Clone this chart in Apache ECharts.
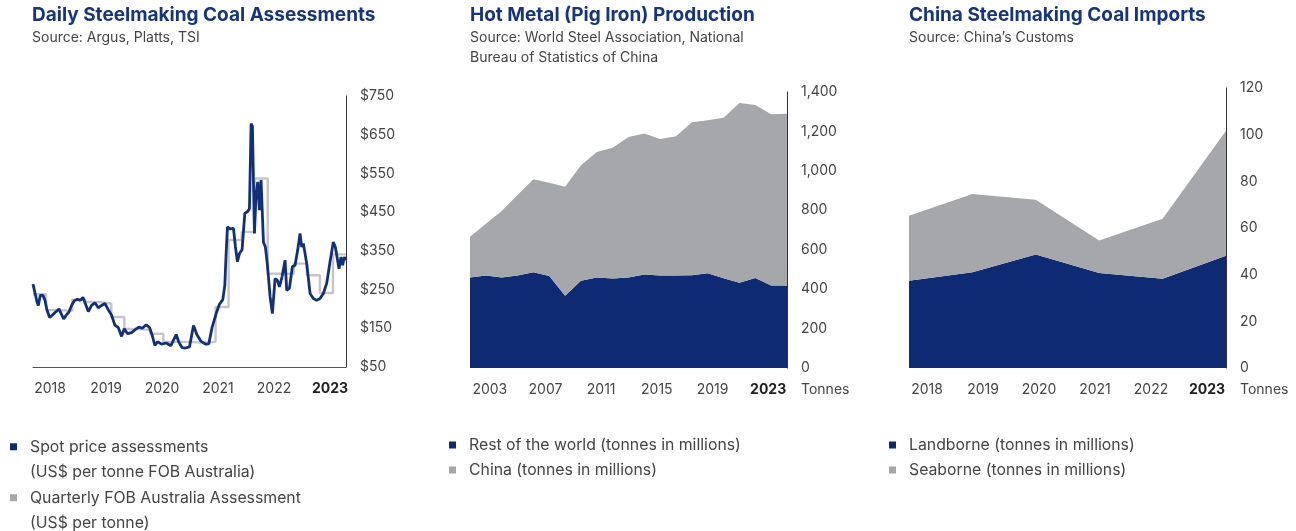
<!DOCTYPE html>
<html>
<head>
<meta charset="utf-8">
<script src="https://cdn.jsdelivr.net/npm/echarts/dist/echarts.min.js"></script>
<style>
  html, body { margin: 0; padding: 0; background: #fff; }
  #chart { width: 1296px; height: 531px; }
</style>
</head>
<body>
<div id="chart"></div>
<script>
// ---- left: daily spot price (decimal year, US$/t) ----
const spotDates = [
  2018.000, 2018.038, 2018.077, 2018.102, 2018.140, 2018.191, 2018.230, 2018.268, 2018.319, 2018.370,
  2018.434, 2018.498, 2018.536, 2018.587, 2018.638, 2018.689, 2018.740, 2018.791, 2018.855, 2018.906,
  2018.957, 2019.008, 2019.060, 2019.123, 2019.187, 2019.251, 2019.315, 2019.379, 2019.443, 2019.506,
  2019.570, 2019.634, 2019.698, 2019.749, 2019.813, 2019.889, 2019.966, 2020.030, 2020.094, 2020.170,
  2020.234, 2020.285, 2020.336, 2020.387, 2020.464, 2020.553, 2020.643, 2020.745, 2020.796, 2020.860,
  2020.923, 2021.000, 2021.077, 2021.140, 2021.217, 2021.306, 2021.370, 2021.434, 2021.511, 2021.574,
  2021.638, 2021.677, 2021.702, 2021.728, 2021.779, 2021.843, 2021.881, 2021.919, 2021.957, 2022.008,
  2022.060, 2022.111, 2022.149, 2022.181, 2022.206, 2022.245, 2022.277, 2022.309, 2022.340, 2022.372,
  2022.417, 2022.455, 2022.494, 2022.545, 2022.589, 2022.640, 2022.685, 2022.723, 2022.774, 2022.832,
  2022.864, 2022.915, 2022.972, 2023.023, 2023.074, 2023.119, 2023.151, 2023.183, 2023.247, 2023.311,
  2023.374, 2023.438, 2023.502, 2023.566, 2023.630, 2023.694, 2023.757, 2023.796, 2023.834, 2023.866,
  2023.904, 2023.936, 2023.968, 2024.000
];
const spotPrices = [
  264, 259, 218, 209, 235, 235, 222, 197, 178, 184,
  192, 200, 197, 174, 184, 192, 209, 221, 225, 222,
  230, 212, 193, 209, 216, 203, 209, 214, 198, 184,
  158, 152, 129, 149, 136, 139, 147, 153, 150, 159,
  152, 132, 106, 115, 109, 112, 105, 134, 114, 100,
  99, 102, 157, 134, 117, 109, 110, 153, 188, 212,
  224, 261, 343, 412, 407, 408, 360, 322, 343, 353,
  447, 451, 459, 679, 672, 395, 498, 528, 455, 533,
  373, 360, 313, 231, 188, 278, 274, 257, 283, 326,
  248, 253, 309, 313, 352, 395, 360, 369, 317, 240,
  227, 222, 227, 240, 266, 322, 373, 360, 356, 304,
  334, 313, 334, 326
];
// quarterly FOB Australia assessment, Q1 2018 .. Q4 2023
const quarterStart = 2018;
const quarterlyPrices = [
  238, 197, 195, 224, 218, 214, 179, 148,
  146, 136, 115, 115, 113, 115, 205, 378,
  399, 537, 291, 291, 317, 287, 241, 341
];
const leftYearLabels = ['2018', '2019', '2020', '2021', '2022', '2023'];

// ---- middle: hot metal production (Mt) ----
const pigYears = ['2003', '2004', '2005', '2006', '2007', '2008', '2009', '2010', '2011', '2012', '2013',
  '2014', '2015', '2016', '2017', '2018', '2019', '2020', '2021', '2022', '2023'];
const restOfWorld = [459, 469, 459, 469, 486, 467, 366, 442, 459, 454, 459,
  474, 469, 469, 471, 481, 455, 432, 457, 418, 418];
const chinaPig = [207, 263, 337, 408, 472, 473, 553, 587, 637, 663, 713,
  715, 693, 707, 775, 776, 815, 912, 877, 869, 872];
const midYearLabels = ['2003', '2007', '2011', '2015', '2019', '2023'];

// ---- right: China coal imports (Mt) ----
const importYears = ['2018', '2019', '2020', '2021', '2022', '2023'];
const landborne = [37.4, 41.0, 48.6, 40.7, 38.3, 48.1];
const seaborne = [27.9, 33.6, 23.5, 13.9, 25.7, 53.6];
const rightYearLabels = ['2018', '2019', '2020', '2021', '2022', '2023'];

const FONT = 'Inter, "Noto Sans", sans-serif';
const NAVY = '#0e2a72';
const GREY = '#a6a7aa';
const TEXT = '#444';

const chart = echarts.init(document.getElementById('chart'));

function labelAxis(gridIndex, labels) {
  return {
    type: 'category', gridIndex: gridIndex, data: labels, boundaryGap: true,
    axisLine: { show: false }, axisTick: { show: false },
    axisLabel: {
      interval: 0, margin: 15, fontSize: 14, color: TEXT, fontFamily: FONT,
      formatter: (v, i) => i === labels.length - 1 ? '{b|' + v + '}' : v,
      rich: { b: { fontWeight: 'bold', color: '#222', fontSize: 14, fontFamily: FONT } }
    }
  };
}

function rightValueAxis(gridIndex, min, max, interval, fmt, name) {
  return {
    type: 'value', gridIndex: gridIndex, position: 'right', min: min, max: max, interval: interval,
    splitLine: { show: false }, axisTick: { show: false },
    axisLine: { show: true, lineStyle: { color: '#333', width: 1 } },
    axisLabel: { margin: 14, fontSize: 14, color: TEXT, fontFamily: FONT, formatter: fmt, padding: [4, 0, 0, 0] },
    name: name || '', nameLocation: 'start', nameGap: 22,
    nameTextStyle: { fontSize: 14, color: TEXT, fontFamily: FONT, align: 'left', verticalAlign: 'middle', padding: [0, 0, 0, 14] }
  };
}

// single-item legend; a leading blank line keeps the marker level with the first text line
function wrappedLegend(name, top) {
  return {
    left: 10, top: top, orient: 'vertical', padding: 0,
    itemWidth: 7, itemHeight: 7, icon: 'rect', selectedMode: false,
    formatter: n => '\n' + n,
    textStyle: { fontSize: 15.8, color: TEXT, fontFamily: FONT, lineHeight: 25.5, padding: [0, 0, 0, 8] },
    data: [name]
  };
}

const SPOT_NAME = 'Spot price assessments\n(US$ per tonne FOB Australia)';
const QUARTER_NAME = 'Quarterly FOB Australia Assessment\n(US$ per tonne)';

const quarterData = quarterlyPrices.map((v, i) => [quarterStart + i * 0.25, v]);
quarterData.push([quarterStart + quarterlyPrices.length * 0.25, quarterlyPrices[quarterlyPrices.length - 1]]);

const option = {
  animation: false,
  textStyle: { fontFamily: FONT },
  title: [
    { text: 'Daily Steelmaking Coal Assessments', subtext: 'Source: Argus, Platts, TSI', left: 32, top: 6 },
    { text: 'Hot Metal (Pig Iron) Production', subtext: 'Source: World Steel Association, National\nBureau of Statistics of China', left: 470, top: 6 },
    { text: 'China Steelmaking Coal Imports', subtext: 'Source: China\u2019s Customs', left: 909, top: 6 }
  ].map(t => Object.assign(t, {
    padding: 0, itemGap: 3,
    textStyle: { fontSize: 19, fontWeight: 'bold', color: '#17357d', fontFamily: FONT },
    subtextStyle: { fontSize: 14, color: TEXT, fontFamily: FONT, lineHeight: 20 }
  })),
  legend: [
    wrappedLegend(SPOT_NAME, 408.5),
    wrappedLegend(QUARTER_NAME, 459.5),
    {
      left: 449, top: 432.5, orient: 'vertical', padding: 0, itemGap: 0,
      itemWidth: 7, itemHeight: 7, icon: 'rect', selectedMode: false,
      textStyle: { fontSize: 15.8, color: TEXT, fontFamily: FONT, lineHeight: 25, padding: [0, 0, 0, 8] },
      data: ['Rest of the world (tonnes in millions)', 'China (tonnes in millions)']
    },
    {
      left: 889, top: 432.5, orient: 'vertical', padding: 0, itemGap: 0,
      itemWidth: 7, itemHeight: 7, icon: 'rect', selectedMode: false,
      textStyle: { fontSize: 15.8, color: TEXT, fontFamily: FONT, lineHeight: 25, padding: [0, 0, 0, 8] },
      data: ['Landborne (tonnes in millions)', 'Seaborne (tonnes in millions)']
    }
  ],
  grid: [
    { left: 33, right: 950, top: 96, bottom: 164 },
    { left: 470, right: 509, top: 92, bottom: 163 },
    { left: 909, right: 70, top: 88, bottom: 163 },
    // rows that carry only the year labels
    { left: 22, width: 336, top: 96, bottom: 164 },
    { left: 462, width: 334, top: 92, bottom: 163 },
    { left: 899, width: 336, top: 88, bottom: 163 }
  ],
  xAxis: [
    {
      type: 'value', gridIndex: 0, min: 2018, max: 2024,
      splitLine: { show: false }, axisTick: { show: false }, axisLabel: { show: false },
      axisLine: { show: true, lineStyle: { color: '#555', width: 1 } }
    },
    {
      type: 'category', gridIndex: 1, data: pigYears, boundaryGap: false,
      axisLine: { show: false }, axisTick: { show: false }, axisLabel: { show: false }
    },
    {
      type: 'category', gridIndex: 2, data: importYears, boundaryGap: false,
      axisLine: { show: false }, axisTick: { show: false }, axisLabel: { show: false }
    },
    labelAxis(3, leftYearLabels),
    labelAxis(4, midYearLabels),
    labelAxis(5, rightYearLabels)
  ],
  yAxis: [
    rightValueAxis(0, 50, 750, 100, v => '$' + v),
    rightValueAxis(1, 0, 1400, 200, v => v.toLocaleString('en-US'), 'Tonnes'),
    rightValueAxis(2, 0, 120, 20, v => String(v), 'Tonnes'),
    { type: 'value', gridIndex: 3, show: false, min: 0, max: 1 },
    { type: 'value', gridIndex: 4, show: false, min: 0, max: 1 },
    { type: 'value', gridIndex: 5, show: false, min: 0, max: 1 }
  ],
  series: [
    {
      name: QUARTER_NAME, type: 'line', step: 'end',
      xAxisIndex: 0, yAxisIndex: 0, symbol: 'none',
      lineStyle: { color: '#c6c6c6', width: 2.4 }, itemStyle: { color: GREY },
      data: quarterData
    },
    {
      name: SPOT_NAME, type: 'line',
      xAxisIndex: 0, yAxisIndex: 0, symbol: 'none',
      lineStyle: { color: '#12307a', width: 2.8 }, itemStyle: { color: NAVY },
      data: spotDates.map((t, i) => [t, spotPrices[i]])
    },
    {
      name: 'Rest of the world (tonnes in millions)', type: 'line', stack: 'pig',
      xAxisIndex: 1, yAxisIndex: 1, symbol: 'none',
      lineStyle: { width: 0 }, areaStyle: { color: NAVY, opacity: 1 }, itemStyle: { color: NAVY },
      data: restOfWorld
    },
    {
      name: 'China (tonnes in millions)', type: 'line', stack: 'pig',
      xAxisIndex: 1, yAxisIndex: 1, symbol: 'none',
      lineStyle: { width: 0 }, areaStyle: { color: GREY, opacity: 1 }, itemStyle: { color: GREY },
      data: chinaPig
    },
    {
      name: 'Landborne (tonnes in millions)', type: 'line', stack: 'imports',
      xAxisIndex: 2, yAxisIndex: 2, symbol: 'none',
      lineStyle: { width: 0 }, areaStyle: { color: NAVY, opacity: 1 }, itemStyle: { color: NAVY },
      data: landborne
    },
    {
      name: 'Seaborne (tonnes in millions)', type: 'line', stack: 'imports',
      xAxisIndex: 2, yAxisIndex: 2, symbol: 'none',
      lineStyle: { width: 0 }, areaStyle: { color: GREY, opacity: 1 }, itemStyle: { color: GREY },
      data: seaborne
    }
  ]
};

chart.setOption(option);
</script>
</body>
</html>
